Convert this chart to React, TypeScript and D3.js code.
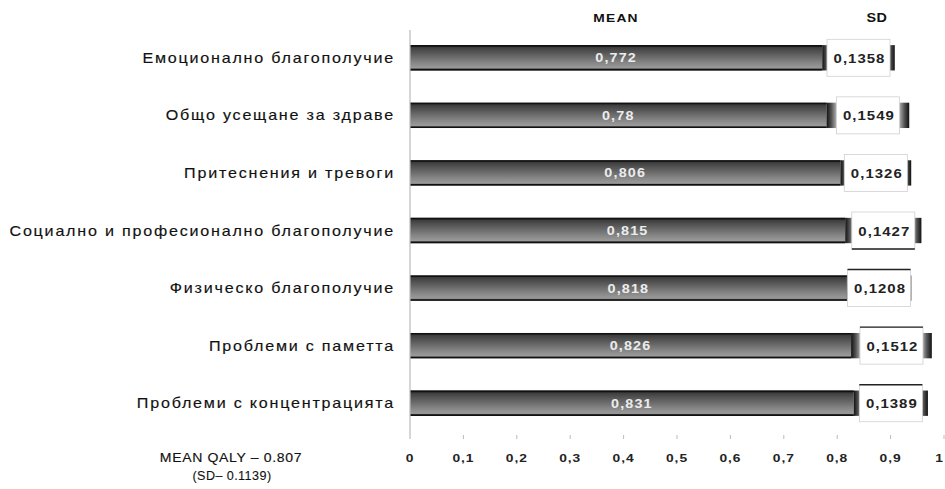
import React from "react";
import * as d3 from "d3";

// QALY domains, mean scores and standard deviations
const categories = [
  "Емоционално благополучие",
  "Общо усещане за здраве",
  "Притеснения и тревоги ",
  "Социално и професионално благополучие",
  "Физическо благополучие",
  "Проблеми с паметта",
  "Проблеми с концентрацията",
];
const meanValues = [0.772, 0.78, 0.806, 0.815, 0.818, 0.826, 0.831];
const sdValues = [0.1358, 0.1549, 0.1326, 0.1427, 0.1208, 0.1512, 0.1389];
const tickValues = [0, 0.1, 0.2, 0.3, 0.4, 0.5, 0.6, 0.7, 0.8, 0.9, 1];
const tickLabels = ["0", "0,1", "0,2", "0,3", "0,4", "0,5", "0,6", "0,7", "0,8", "0,9", "1"];
const summaryLines = ["MEAN QALY  – 0.807", "(SD– 0.1139)"];

const W = 945;
const H = 489;
const FONT = "'Liberation Sans', Arial, sans-serif";

const comma = (v: number) => String(v).replace(".", ",");

type LabelProps = {
  x: number;
  y: number;
  sx?: number;
  anchor?: "start" | "middle" | "end";
  size: number;
  weight?: string;
  fill?: string;
  spacing?: number;
  heavy?: number;
  children: React.ReactNode;
};

// text that is stretched horizontally around its anchor point
function Label({ x, y, sx = 1, anchor = "middle", size, weight = "normal", fill = "#111", spacing = 0, heavy = 0, children }: LabelProps) {
  return (
    <g transform={`translate(${x},${y}) scale(${sx},1)`}>
      <text
        x={0}
        y={0}
        textAnchor={anchor}
        fontSize={size}
        fontWeight={weight}
        fill={fill}
        stroke={heavy > 0 ? fill : "none"}
        strokeWidth={heavy}
        letterSpacing={spacing}
      >
        {children}
      </text>
    </g>
  );
}

export default function App() {
  const x = d3.scaleLinear().domain([0, 1]).range([410, 944]);
  const y = d3
    .scaleBand<string>()
    .domain(categories)
    .range([29, 432])
    .paddingInner(0.56)
    .paddingOuter(0.28);
  const bh = y.bandwidth();

  // darker edge on some of the SD label frames
  const frameEdge = ["", "", "", "bottom", "top", "top", "top"];
  const boxW = 63;
  const boxH = 37;

  return (
    <svg
      width={W}
      height={H}
      style={{ position: "absolute", left: 0, top: 0, background: "#fff" }}
      fontFamily={FONT}
    >
      <defs>
        <linearGradient id="meanFill" x1="0" y1="0" x2="0" y2="1">
          <stop offset="0" stopColor="#2e2e2e" />
          <stop offset="0.15" stopColor="#454545" />
          <stop offset="0.7" stopColor="#868686" />
          <stop offset="0.9" stopColor="#9a9a9a" />
          <stop offset="1" stopColor="#3a3a3a" />
        </linearGradient>
        <linearGradient id="sdFill" x1="0" y1="0" x2="1" y2="0">
          <stop offset="0" stopColor="#111" />
          <stop offset="0.06" stopColor="#555" />
          <stop offset="0.14" stopColor="#cfcfcf" />
          <stop offset="0.5" stopColor="#fff" />
          <stop offset="0.86" stopColor="#cfcfcf" />
          <stop offset="0.94" stopColor="#555" />
          <stop offset="1" stopColor="#111" />
        </linearGradient>
      </defs>

      {/* column headers */}
      <Label x={616} y={22} sx={1.2} size={11.5} weight="bold" spacing={1}>
        MEAN
      </Label>
      <Label x={877} y={22} sx={1.15} size={12.5} weight="bold" spacing={0.5}>
        SD
      </Label>

      {/* value axis ticks */}
      {tickValues.map((t, i) => {
        const last = i === tickValues.length - 1;
        return (
          <g key={"t" + i}>
            {i > 0 && (
              <line x1={x(t)} x2={x(t)} y1={435} y2={439} stroke="#bbb" strokeWidth={1} />
            )}
            <Label
              x={last ? W - 1 : x(t)}
              y={462}
              sx={1.2}
              anchor={last ? "end" : "middle"}
              size={11.5}
              weight="bold"
              fill="#222"
              spacing={0.8}
            >
              {tickLabels[i]}
            </Label>
          </g>
        );
      })}

      {/* bars */}
      {categories.map((c, i) => {
        const y0 = y(c) as number;
        const m = meanValues[i];
        const s = sdValues[i];
        const xm = x(m);
        const xs = x(m + s);
        const cx = (xm + xs) / 2;
        const cy = y0 + bh / 2;
        const bx = cx - boxW / 2;
        const by = cy - boxH / 2;
        return (
          <g key={c}>
            <Label x={395} y={cy + 5} sx={1.15} anchor="end" size={14} spacing={1.55} fill="#111" heavy={0.15}>
              {c}
            </Label>
            {/* mean segment */}
            <rect x={x(0)} y={y0} width={xm - x(0)} height={bh} fill="url(#meanFill)" />
            <line x1={x(0)} x2={xm} y1={y0 + 0.8} y2={y0 + 0.8} stroke="#111" strokeWidth={1.6} />
            <line x1={x(0)} x2={xm} y1={y0 + bh - 0.8} y2={y0 + bh - 0.8} stroke="#111" strokeWidth={1.6} />
            <Label
              x={(x(0) + xm) / 2}
              y={cy + 4.5}
              sx={1.15}
              size={12.5}
              weight="bold"
              fill="#ececec"
              spacing={1}
            >
              {comma(m)}
            </Label>
            {/* SD segment stacked on the mean */}
            <rect x={xm} y={y0} width={xs - xm} height={bh} fill="url(#sdFill)" />
            {/* SD label frame */}
            <rect x={bx} y={by} width={boxW} height={boxH} fill="#fff" stroke="#d0d0d0" strokeWidth={0.8} />
            {frameEdge[i] === "top" && (
              <line x1={bx} x2={bx + boxW} y1={by} y2={by} stroke="#222" strokeWidth={1.4} />
            )}
            {frameEdge[i] === "bottom" && (
              <line x1={bx} x2={bx + boxW} y1={by + boxH} y2={by + boxH} stroke="#222" strokeWidth={1.4} />
            )}
            <Label x={cx + 1} y={cy + 5} sx={1.15} size={13} weight="bold" fill="#222" spacing={0.9}>
              {comma(s)}
            </Label>
          </g>
        );
      })}

      {/* category axis */}
      <line x1={x(0)} x2={x(0)} y1={30} y2={439} stroke="#bbb" strokeWidth={1.2} />

      {/* overall summary */}
      <Label x={231} y={462} sx={1.08} size={13} spacing={0.6} heavy={0.15}>
        {summaryLines[0]}
      </Label>
      <Label x={232} y={480} sx={1.05} size={12} spacing={0.4} heavy={0.1}>
        {summaryLines[1]}
      </Label>
    </svg>
  );
}
